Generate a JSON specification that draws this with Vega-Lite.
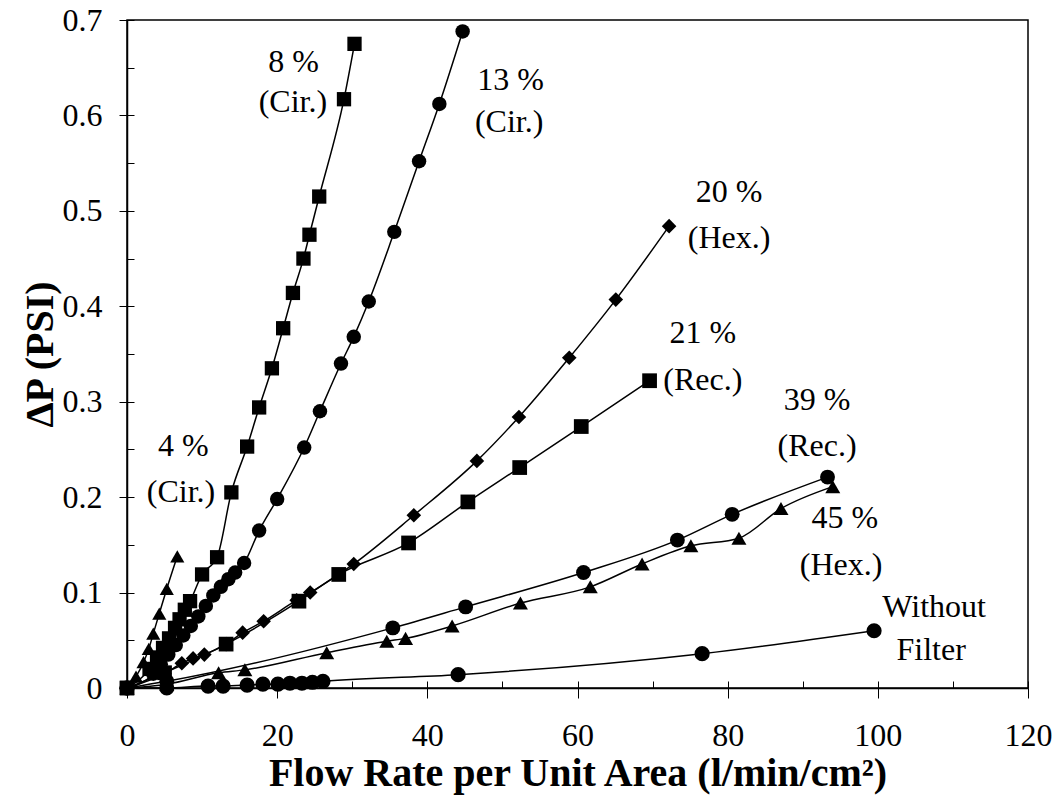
{
  "$schema": "https://vega.github.io/schema/vega-lite/v6.json",
  "width": 901,
  "height": 668,
  "autosize": "none",
  "padding": {"left": 127, "top": 20, "right": 30, "bottom": 120},
  "background": "white",
  "config": {
    "font": "Liberation Serif",
    "view": {"stroke": "black", "strokeWidth": 1.5}
  },
  "datasets": {
    "pts": [
      {"s": "4%", "x": 0, "y": 0}, {"s": "4%", "x": 1.2, "y": 0.012}, {"s": "4%", "x": 2.2, "y": 0.027}, {"s": "4%", "x": 2.9, "y": 0.041}, {"s": "4%", "x": 3.5, "y": 0.057}, {"s": "4%", "x": 4.3, "y": 0.078}, {"s": "4%", "x": 5.3, "y": 0.104}, {"s": "4%", "x": 6.7, "y": 0.138},
      {"s": "8%", "x": 0, "y": 0}, {"s": "8%", "x": 3.0, "y": 0.02}, {"s": "8%", "x": 4.0, "y": 0.032}, {"s": "8%", "x": 4.8, "y": 0.042}, {"s": "8%", "x": 5.6, "y": 0.052}, {"s": "8%", "x": 6.4, "y": 0.063}, {"s": "8%", "x": 7.0, "y": 0.072}, {"s": "8%", "x": 7.7, "y": 0.082}, {"s": "8%", "x": 8.4, "y": 0.091}, {"s": "8%", "x": 10.0, "y": 0.119}, {"s": "8%", "x": 12.0, "y": 0.137}, {"s": "8%", "x": 13.9, "y": 0.205}, {"s": "8%", "x": 16.0, "y": 0.253}, {"s": "8%", "x": 17.6, "y": 0.294}, {"s": "8%", "x": 19.3, "y": 0.335}, {"s": "8%", "x": 20.8, "y": 0.377}, {"s": "8%", "x": 22.1, "y": 0.414}, {"s": "8%", "x": 23.5, "y": 0.45}, {"s": "8%", "x": 24.3, "y": 0.475}, {"s": "8%", "x": 25.6, "y": 0.515}, {"s": "8%", "x": 28.9, "y": 0.617}, {"s": "8%", "x": 30.3, "y": 0.675},
      {"s": "13%", "x": 0, "y": 0}, {"s": "13%", "x": 3.5, "y": 0.015}, {"s": "13%", "x": 4.5, "y": 0.025}, {"s": "13%", "x": 5.5, "y": 0.035}, {"s": "13%", "x": 6.5, "y": 0.045}, {"s": "13%", "x": 7.5, "y": 0.055}, {"s": "13%", "x": 8.5, "y": 0.065}, {"s": "13%", "x": 9.5, "y": 0.075}, {"s": "13%", "x": 10.5, "y": 0.086}, {"s": "13%", "x": 11.5, "y": 0.097}, {"s": "13%", "x": 12.5, "y": 0.106}, {"s": "13%", "x": 13.5, "y": 0.114}, {"s": "13%", "x": 14.4, "y": 0.121}, {"s": "13%", "x": 15.6, "y": 0.131}, {"s": "13%", "x": 17.6, "y": 0.165}, {"s": "13%", "x": 20.0, "y": 0.198}, {"s": "13%", "x": 23.6, "y": 0.252}, {"s": "13%", "x": 25.7, "y": 0.29}, {"s": "13%", "x": 28.5, "y": 0.34}, {"s": "13%", "x": 30.2, "y": 0.368}, {"s": "13%", "x": 32.2, "y": 0.405}, {"s": "13%", "x": 35.6, "y": 0.478}, {"s": "13%", "x": 38.9, "y": 0.552}, {"s": "13%", "x": 41.6, "y": 0.612}, {"s": "13%", "x": 44.7, "y": 0.688},
      {"s": "20%", "x": 0, "y": 0}, {"s": "20%", "x": 5.0, "y": 0.015}, {"s": "20%", "x": 7.3, "y": 0.026}, {"s": "20%", "x": 8.8, "y": 0.031}, {"s": "20%", "x": 10.3, "y": 0.035}, {"s": "20%", "x": 13.2, "y": 0.046}, {"s": "20%", "x": 15.4, "y": 0.058}, {"s": "20%", "x": 18.2, "y": 0.07}, {"s": "20%", "x": 22.6, "y": 0.092}, {"s": "20%", "x": 24.4, "y": 0.1}, {"s": "20%", "x": 30.2, "y": 0.13}, {"s": "20%", "x": 38.2, "y": 0.181}, {"s": "20%", "x": 46.6, "y": 0.238}, {"s": "20%", "x": 52.2, "y": 0.284}, {"s": "20%", "x": 58.9, "y": 0.346}, {"s": "20%", "x": 65.1, "y": 0.407}, {"s": "20%", "x": 72.2, "y": 0.484},
      {"s": "21%", "x": 0, "y": 0}, {"s": "21%", "x": 5.0, "y": 0.016}, {"s": "21%", "x": 13.2, "y": 0.046}, {"s": "21%", "x": 22.9, "y": 0.091}, {"s": "21%", "x": 28.2, "y": 0.119}, {"s": "21%", "x": 37.5, "y": 0.152}, {"s": "21%", "x": 45.4, "y": 0.195}, {"s": "21%", "x": 52.3, "y": 0.231}, {"s": "21%", "x": 60.5, "y": 0.274}, {"s": "21%", "x": 69.6, "y": 0.322},
      {"s": "39%", "x": 0, "y": 0}, {"s": "39%", "x": 5.3, "y": 0.007}, {"s": "39%", "x": 35.4, "y": 0.063}, {"s": "39%", "x": 45.1, "y": 0.085}, {"s": "39%", "x": 60.8, "y": 0.121}, {"s": "39%", "x": 73.3, "y": 0.155}, {"s": "39%", "x": 80.6, "y": 0.182}, {"s": "39%", "x": 93.3, "y": 0.221},
      {"s": "45%", "x": 0, "y": 0}, {"s": "45%", "x": 5.3, "y": 0.004}, {"s": "45%", "x": 12.2, "y": 0.016}, {"s": "45%", "x": 15.7, "y": 0.019}, {"s": "45%", "x": 26.6, "y": 0.037}, {"s": "45%", "x": 34.6, "y": 0.049}, {"s": "45%", "x": 37.1, "y": 0.052}, {"s": "45%", "x": 43.3, "y": 0.065}, {"s": "45%", "x": 52.4, "y": 0.089}, {"s": "45%", "x": 61.7, "y": 0.106}, {"s": "45%", "x": 68.6, "y": 0.13}, {"s": "45%", "x": 75.1, "y": 0.149}, {"s": "45%", "x": 81.5, "y": 0.157}, {"s": "45%", "x": 87.1, "y": 0.188}, {"s": "45%", "x": 94.0, "y": 0.211},
      {"s": "none", "x": 0, "y": 0}, {"s": "none", "x": 5.3, "y": 0.0}, {"s": "none", "x": 10.8, "y": 0.002}, {"s": "none", "x": 12.8, "y": 0.002}, {"s": "none", "x": 16.0, "y": 0.003}, {"s": "none", "x": 18.1, "y": 0.004}, {"s": "none", "x": 20.1, "y": 0.004}, {"s": "none", "x": 21.7, "y": 0.005}, {"s": "none", "x": 23.3, "y": 0.005}, {"s": "none", "x": 24.7, "y": 0.006}, {"s": "none", "x": 26.1, "y": 0.007}, {"s": "none", "x": 44.1, "y": 0.014}, {"s": "none", "x": 76.6, "y": 0.036}, {"s": "none", "x": 99.5, "y": 0.06}
    ],
    "labels": [
      {"t": "8 %", "x": 22.2, "y": 0.656}, {"t": "(Cir.)", "x": 22.1, "y": 0.614},
      {"t": "13 %", "x": 51.1, "y": 0.637}, {"t": "(Cir.)", "x": 50.9, "y": 0.593},
      {"t": "20 %", "x": 80.2, "y": 0.52}, {"t": "(Hex.)", "x": 80.2, "y": 0.472},
      {"t": "21 %", "x": 76.7, "y": 0.372}, {"t": "(Rec.)", "x": 76.7, "y": 0.323},
      {"t": "39 %", "x": 91.9, "y": 0.302}, {"t": "(Rec.)", "x": 91.9, "y": 0.254},
      {"t": "45 %", "x": 95.6, "y": 0.178}, {"t": "(Hex.)", "x": 95.1, "y": 0.129},
      {"t": "Without", "x": 107.5, "y": 0.085}, {"t": "Filter", "x": 107.1, "y": 0.04},
      {"t": "4 %", "x": 7.5, "y": 0.254}, {"t": "(Cir.)", "x": 7.2, "y": 0.205}
    ]
  },
  "resolve": {"axis": {"x": "independent", "y": "independent"}},
  "layer": [
    {
      "data": {"name": "pts"},
      "mark": {"type": "line", "interpolate": "monotone", "color": "black", "strokeWidth": 1.5},
      "encoding": {
        "detail": {"field": "s", "type": "nominal"},
        "x": {"field": "x", "type": "quantitative", "scale": {"domain": [0, 120], "nice": false},
          "axis": {"orient": "bottom", "values": [0, 20, 40, 60, 80, 100, 120], "tickSize": 10, "tickColor": "black", "tickWidth": 1, "domainColor": "black", "domainWidth": 1.5, "grid": false,
            "labelFont": "Liberation Serif", "labelFontSize": 32, "labelColor": "black", "labelPadding": 22, "labelFlush": false, "labelOverlap": false,
            "title": "Flow Rate per Unit Area (l/min/cm²)", "titleFont": "Liberation Serif", "titleFontSize": 40, "titleFontWeight": "bold", "titleColor": "black", "titlePadding": 2}},
        "y": {"field": "y", "type": "quantitative", "scale": {"domain": [0, 0.7], "nice": false},
          "axis": {"orient": "left", "values": [0, 0.1, 0.2, 0.3, 0.4, 0.5, 0.6, 0.7], "tickSize": 8, "tickColor": "black", "tickWidth": 1, "domainColor": "black", "domainWidth": 1.5, "grid": false,
            "labelFont": "Liberation Serif", "labelFontSize": 32, "labelColor": "black", "labelPadding": 17, "labelFlush": false, "labelOverlap": false,
            "labelExpr": "datum.value == 0 ? '0' : format(datum.value, '.1f')",
            "title": "ΔP (PSI)", "titleFont": "Liberation Serif", "titleFontSize": 40, "titleFontWeight": "bold", "titleColor": "black", "titlePadding": 2}}
      }
    },
    {
      "data": {"name": "pts"},
      "mark": {"type": "point", "filled": true, "opacity": 1, "color": "black"},
      "encoding": {
        "x": {"field": "x", "type": "quantitative",
          "axis": {"orient": "bottom", "values": [0, 10, 20, 30, 40, 50, 60, 70, 80, 90, 100, 110, 120], "tickSize": -7, "tickColor": "black", "tickWidth": 1, "domain": false, "labels": false, "grid": false, "title": null}},
        "y": {"field": "y", "type": "quantitative",
          "axis": {"orient": "left", "values": [0, 0.05, 0.1, 0.15, 0.2, 0.25, 0.3, 0.35, 0.4, 0.45, 0.5, 0.55, 0.6, 0.65, 0.7], "tickSize": -7, "tickColor": "black", "tickWidth": 1, "domain": false, "labels": false, "grid": false, "title": null}},
        "shape": {"field": "s", "type": "nominal", "legend": null,
          "scale": {"domain": ["4%", "8%", "13%", "20%", "21%", "39%", "45%", "none"],
            "range": ["triangle-up", "square", "circle", "diamond", "square", "circle", "triangle-up", "circle"]}},
        "size": {"field": "s", "type": "ordinal", "legend": null,
          "scale": {"domain": ["4%", "8%", "13%", "20%", "21%", "39%", "45%", "none"],
            "range": [200, 230, 200, 210, 340, 300, 420, 180]}}
      }
    },
    {
      "data": {"name": "labels"},
      "mark": {"type": "text", "font": "Liberation Serif", "fontSize": 32, "color": "black", "align": "center", "baseline": "middle"},
      "encoding": {
        "x": {"field": "x", "type": "quantitative", "axis": null},
        "y": {"field": "y", "type": "quantitative", "axis": null},
        "text": {"field": "t", "type": "nominal"}
      }
    }
  ]
}
